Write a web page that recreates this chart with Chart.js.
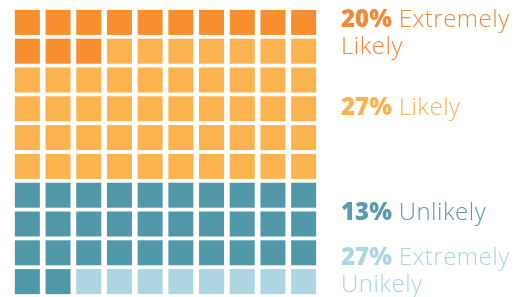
<!DOCTYPE html>
<html>
<head>
<meta charset="utf-8">
<script src="https://cdn.jsdelivr.net/npm/chart.js@4"></script>
<style>
html, body { margin: 0; padding: 0; background: #fff; }
#wrap { position: relative; width: 530px; height: 297px; }
.lbl { position: absolute; left: 341px; width: 189px; font-family: "Open Sans", sans-serif; font-size: 24px; font-weight: 300; letter-spacing: 0.5px; line-height: 27px; }
.lbl b { font-weight: 800; letter-spacing: 0; }
</style>
</head>
<body>
<div id="wrap">
  <canvas id="waffle" width="530" height="297"></canvas>
</div>
<script>
// waffle: 10 x 10 cells, filled row by row
const categories = ['Extremely Likely', 'Likely', 'Unlikely', 'Extremely Unikely'];
const cellCounts = [13, 47, 32, 8];
const shownPercents = [20, 27, 13, 27];
const colors = ['#F78F2E', '#FBB34F', '#5199A9', '#ADD6E2'];
const textColors = ['#F08A36', '#FBB34F', '#5B9CAB', '#ADD6E2'];
const labelTops = [4, 92, 197, 242];

const cols = 10;
let idx = 0;
const datasets = categories.map((c, i) => {
    const pts = [];
    for (let k = 0; k < cellCounts[i]; k++, idx++) {
        pts.push({ x: (idx % cols) + 1, y: Math.floor(idx / cols) + 1 });
    }
    return {
        label: c,
        data: pts,
        pointStyle: 'rect',
        pointRadius: 17.7,
        pointBorderWidth: 0,
        backgroundColor: colors[i],
        borderColor: colors[i],
        clip: false
    };
});

new Chart(document.getElementById('waffle'), {
    type: 'scatter',
    data: { datasets: datasets },
    options: {
        responsive: false,
        animation: false,
        events: [],
        layout: { autoPadding: false, padding: { left: 12, top: 8, right: 211, bottom: 1 } },
        plugins: { legend: { display: false }, tooltip: { enabled: false } },
        scales: {
            x: { display: false, min: 0.5, max: 10.5 },
            y: { display: false, min: 0.5, max: 10.5, reverse: true }
        }
    }
});

// labels on the right
const wrap = document.getElementById('wrap');
categories.forEach((c, i) => {
    const d = document.createElement('div');
    d.className = 'lbl';
    d.style.top = labelTops[i] + 'px';
    d.style.color = textColors[i];
    d.innerHTML = '<b>' + shownPercents[i] + '%</b> ' + c;
    wrap.appendChild(d);
});
</script>
</body>
</html>
